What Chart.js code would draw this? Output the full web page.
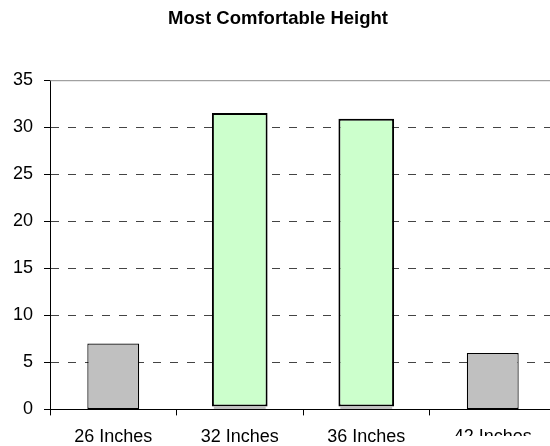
<!DOCTYPE html>
<html>
<head>
<meta charset="utf-8">
<script src="https://cdn.jsdelivr.net/npm/chart.js@4/dist/chart.umd.min.js"></script>
<style>
  html, body { margin: 0; padding: 0; background: #fff; overflow: hidden; }
  .chart-container { position: relative; width: 556px; height: 459px; }
</style>
</head>
<body>
<div class="chart-container">
  <canvas id="heightChart"></canvas>
</div>
<script>
  const categories = ["26 Inches", "32 Inches", "36 Inches", "42 Inches"];
  // gray series sits underneath, green series stacks on top of it
  const baseValues = [7, 0.3, 0.3, 6];
  const preferredValues = [null, 31.2, 30.6, null];
  const yMin = 0;
  const yMax = 35;
  const yStep = 5;

  const FONT = "'Liberation Sans', Arial, sans-serif";

  // solid top edge of the plot area
  const plotFrame = {
    id: "plotFrame",
    beforeDatasetsDraw(chart) {
      const { ctx, chartArea } = chart;
      ctx.save();
      ctx.strokeStyle = "#8c8c8c";
      ctx.lineWidth = 1;
      ctx.beginPath();
      ctx.moveTo(chartArea.left, chartArea.top + 0.5);
      ctx.lineTo(chartArea.right, chartArea.top + 0.5);
      ctx.stroke();
      ctx.restore();
    },
    afterDraw(chart) {
      // the last category label is cut off at the bottom
      const { ctx } = chart;
      ctx.save();
      ctx.fillStyle = "#fff";
      ctx.fillRect(440, 436, 120, 30);
      ctx.restore();
    },
  };

  const ctx = document.getElementById("heightChart").getContext("2d");
  new Chart(ctx, {
    type: "bar",
    data: {
      labels: categories,
      datasets: [
        {
          label: "Base",
          data: baseValues,
          backgroundColor: "#c0c0c0",
          borderColor: "#000",
          borderWidth: [1.2, 0, 0, 1.2],
          borderSkipped: false,
          barPercentage: 0.41,
          categoryPercentage: 1,
        },
        {
          label: "Preferred",
          data: preferredValues,
          backgroundColor: "#ccffcc",
          borderColor: "#000",
          borderWidth: 2,
          borderSkipped: false,
          barPercentage: 0.44,
          categoryPercentage: 1,
        },
      ],
    },
    options: {
      responsive: true,
      maintainAspectRatio: false,
      animation: false,
      layout: { padding: 0 },
      plugins: {
        legend: { display: false },
        tooltip: { enabled: false },
        title: {
          display: true,
          text: "Most Comfortable Height",
          color: "#000",
          font: { family: FONT, size: 18.5, weight: "bold" },
          padding: { top: 8, bottom: 50 },
        },
      },
      scales: {
        x: {
          stacked: true,
          grid: {
            display: true,
            drawOnChartArea: false,
            drawTicks: true,
            offset: true,
            tickLength: 6,
            tickColor: "#000",
          },
          border: { display: true, color: "#000", width: 1 },
          ticks: {
            color: "#000",
            padding: 11,
            maxRotation: 0,
            autoSkip: false,
            font: { family: FONT, size: 18 },
          },
        },
        y: {
          stacked: true,
          min: yMin,
          max: yMax,
          afterFit(scale) {
            scale.width = 50;
          },
          grid: {
            color: (c) => (c.tick && (c.tick.value === yMin || c.tick.value === yMax) ? "rgba(0,0,0,0)" : "#444"),
            tickColor: "#000",
            tickLength: 6,
            lineWidth: 1,
          },
          border: { display: true, color: "#000", width: 1, dash: [8, 9] },
          ticks: {
            stepSize: yStep,
            color: "#000",
            padding: 11,
            font: { family: FONT, size: 18 },
          },
        },
      },
    },
    plugins: [plotFrame],
  });
</script>
</body>
</html>
